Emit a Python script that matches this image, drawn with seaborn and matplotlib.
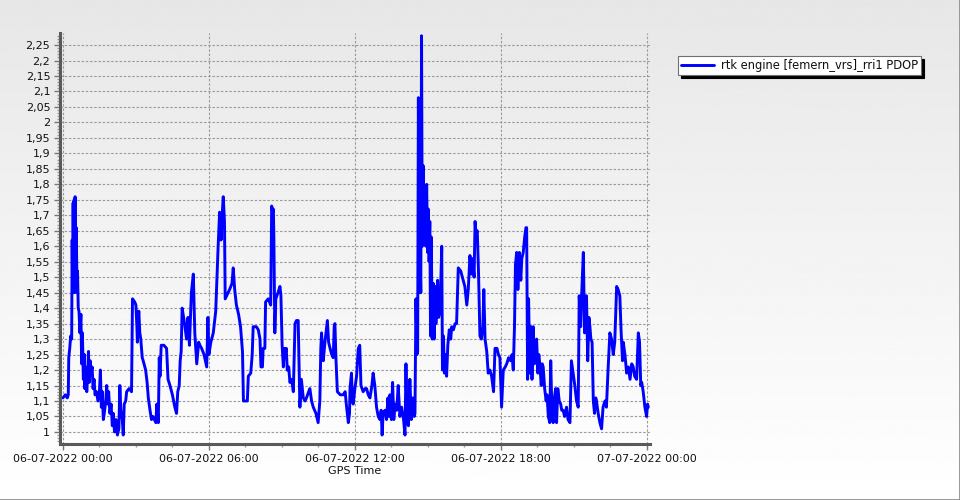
import numpy as np
import pandas as pd
import matplotlib
matplotlib.use("Agg")
import matplotlib.pyplot as plt
import matplotlib.dates as mdates
from matplotlib.ticker import FuncFormatter, MultipleLocator
from matplotlib.lines import Line2D
import seaborn as sns

# PDOP values, hours after 06-07-2022 00:00
hours = [
    0.00, 0.10, 0.18, 0.22, 0.24, 0.28, 0.32, 0.36, 0.38, 0.40, 0.42, 0.44, 0.46, 0.48, 0.50, 0.52,
    0.55, 0.58, 0.60, 0.63, 0.66, 0.70, 0.74, 0.77, 0.80, 0.84, 0.88, 0.90, 0.94, 0.98, 1.02, 1.05,
    1.08, 1.12, 1.16, 1.20, 1.24, 1.28, 1.32, 1.38, 1.44, 1.50, 1.54, 1.58, 1.62, 1.66, 1.70, 1.76,
    1.80, 1.84, 1.88, 1.93, 1.98, 2.03, 2.07, 2.12, 2.18, 2.24, 2.30, 2.34, 2.38, 2.44, 2.48, 2.52,
    2.58, 2.62, 2.72, 2.82, 2.86, 2.95, 3.00, 3.04, 3.06, 3.08, 3.12, 3.16, 3.20, 3.26, 3.30, 3.40,
    3.46, 3.51, 3.58, 3.64, 3.70, 3.76, 3.82, 3.86, 3.92, 3.96, 3.99, 4.04, 4.15, 4.26, 4.32, 4.40,
    4.50, 4.60, 4.67, 4.72, 4.78, 4.82, 4.86, 4.90, 4.96, 5.00, 5.05, 5.08, 5.14, 5.20, 5.28, 5.36,
    5.42, 5.50, 5.58, 5.63, 5.70, 5.80, 5.91, 5.96, 6.00, 6.08, 6.18, 6.28, 6.38, 6.44, 6.50, 6.56,
    6.59, 6.64, 6.67, 6.73, 6.85, 6.95, 7.00, 7.06, 7.13, 7.22, 7.30, 7.38, 7.42, 7.50, 7.58, 7.62,
    7.72, 7.78, 7.82, 7.95, 8.03,
    8.10, 8.14, 8.20, 8.23, 8.30, 8.33, 8.44, 8.54, 8.58, 8.62, 8.65, 8.67, 8.71, 8.75, 8.84, 8.92,
    8.96, 9.01, 9.06, 9.10, 9.13, 9.18, 9.22, 9.28, 9.33, 9.40, 9.47, 9.54, 9.60, 9.67, 9.71, 9.74,
    9.80, 9.88, 9.95, 10.01, 10.10, 10.15, 10.22, 10.29, 10.40, 10.49, 10.56, 10.60, 10.63, 10.70,
    10.77, 10.87, 10.92, 10.98, 11.05, 11.11, 11.15, 11.18, 11.22, 11.28, 11.40, 11.52, 11.60, 11.66,
    11.73, 11.78, 11.80, 11.86, 11.90, 11.93, 12.00, 12.07, 12.14, 12.20, 12.25, 12.34, 12.42, 12.48,
    12.55, 12.62, 12.70, 12.75, 12.82, 12.89, 12.96, 13.03,
    13.08, 13.12, 13.16, 13.24, 13.30, 13.36, 13.40, 13.44, 13.50, 13.55, 13.60, 13.65, 13.72, 13.78,
    13.85, 13.92, 14.00, 14.06, 14.10, 14.14, 14.20, 14.26, 14.32, 14.38, 14.44, 14.47, 14.51, 14.55,
    14.58, 14.61, 14.64, 14.67, 14.71, 14.74, 14.77, 14.81, 14.85, 14.88, 14.92, 14.95, 14.99, 15.02,
    15.05, 15.08, 15.11, 15.14, 15.18, 15.22, 15.26, 15.30, 15.33, 15.36, 15.40, 15.44, 15.50, 15.57,
    15.60, 15.64, 15.68, 15.72, 15.77, 15.82, 15.88, 15.94, 15.98, 16.05, 16.12, 16.18, 16.25, 16.35,
    16.45, 16.52, 16.60, 16.66, 16.73, 16.78, 16.84, 16.90, 16.94, 16.98, 17.03, 17.08, 17.14, 17.20,
    17.26, 17.30, 17.35, 17.42, 17.48, 17.55, 17.62, 17.70, 17.76, 17.84, 17.90, 17.96, 18.03, 18.10,
    18.18, 18.24, 18.32, 18.40, 18.46, 18.51, 18.56, 18.60, 18.65, 18.70, 18.76, 18.82, 18.86, 18.92,
    18.98, 19.03, 19.06,
    19.10, 19.14, 19.19, 19.24, 19.28, 19.33, 19.38, 19.42, 19.47, 19.52, 19.56, 19.60, 19.66, 19.70,
    19.74, 19.80, 19.86, 19.90, 19.95, 20.01, 20.05, 20.10, 20.15, 20.20, 20.25, 20.29, 20.34, 20.40,
    20.46, 20.50, 20.56, 20.62, 20.70, 20.76, 20.84, 20.90, 20.97, 21.04, 21.11, 21.18, 21.22, 21.28,
    21.33, 21.39, 21.44, 21.48, 21.52, 21.57, 21.62, 21.66, 21.70, 21.75, 21.80, 21.85, 21.90, 21.93,
    22.00, 22.07, 22.14, 22.20, 22.28, 22.34, 22.40, 22.48, 22.55, 22.62, 22.68, 22.76, 22.82, 22.89,
    22.94, 23.00, 23.03, 23.10, 23.17, 23.24, 23.31, 23.38, 23.44, 23.50, 23.58, 23.65, 23.70, 23.75,
    23.79, 23.85, 23.92, 23.99, 24.03, 24.06,
]

pdop = [
    1.11, 1.12, 1.11, 1.12, 1.24, 1.27, 1.31, 1.30, 1.62, 1.45, 1.74, 1.47, 1.75, 1.45, 1.76, 1.50,
    1.66, 1.45, 1.52, 1.40, 1.39, 1.32, 1.38, 1.22, 1.32, 1.17, 1.25, 1.14, 1.21, 1.13, 1.19, 1.26,
    1.16, 1.23, 1.19, 1.21, 1.14, 1.17, 1.12, 1.13, 1.10, 1.13, 1.20, 1.08, 1.13, 1.04, 1.06, 1.10,
    1.15, 1.09, 1.13, 1.06, 1.09, 1.02, 1.06, 1.00, 1.04, 0.99, 1.01, 1.15, 1.07, 1.04, 0.99, 1.09,
    1.10, 1.13, 1.14, 1.13, 1.43, 1.42, 1.41, 1.34, 1.29, 1.35, 1.39, 1.32, 1.30, 1.24, 1.23, 1.20,
    1.16, 1.11, 1.07, 1.04, 1.05, 1.04, 1.03, 1.09, 1.03, 1.24, 1.18, 1.28, 1.28, 1.27, 1.17, 1.15,
    1.12, 1.08, 1.06, 1.13, 1.15, 1.23, 1.26, 1.40, 1.37, 1.35, 1.32, 1.30, 1.37, 1.28, 1.45, 1.51,
    1.32, 1.22, 1.29, 1.28, 1.27, 1.25, 1.21, 1.37, 1.25, 1.29, 1.32, 1.39, 1.60, 1.71, 1.62, 1.72,
    1.76, 1.68, 1.43, 1.44, 1.46, 1.48, 1.53, 1.46, 1.41, 1.38, 1.34, 1.26, 1.10, 1.10, 1.10, 1.18,
    1.19, 1.25, 1.34, 1.34, 1.33,
    1.30, 1.21, 1.21, 1.27, 1.27, 1.42, 1.43, 1.41, 1.73, 1.71, 1.72, 1.63, 1.32, 1.43, 1.45, 1.47,
    1.44, 1.28, 1.21, 1.27, 1.25, 1.27, 1.20, 1.21, 1.16, 1.17, 1.13, 1.35, 1.36, 1.36, 1.19, 1.08,
    1.17, 1.11, 1.10, 1.11, 1.13, 1.14, 1.10, 1.08, 1.06, 1.03, 1.10, 1.27, 1.32, 1.23,
    1.29, 1.36, 1.29, 1.27, 1.25, 1.24, 1.34, 1.35, 1.24, 1.13, 1.12, 1.12, 1.13, 1.08,
    1.03, 1.06, 1.14, 1.19, 1.10, 1.09, 1.14, 1.18, 1.27, 1.28, 1.15, 1.13, 1.14, 1.14,
    1.12, 1.11, 1.15, 1.19, 1.15, 1.08, 1.05, 1.04,
    1.07, 0.99, 1.06, 1.07, 1.04, 1.11, 1.05, 1.12, 1.04, 1.16, 1.04, 1.09, 1.07, 1.15,
    1.05, 1.08, 1.04, 0.99, 1.22, 1.04, 1.02, 1.17, 1.04, 1.11, 1.05, 1.06, 1.43, 1.25,
    1.26, 2.08, 1.45, 1.62, 1.45, 2.28, 1.60, 1.86, 1.62, 1.75, 1.60, 1.80, 1.58, 1.72,
    1.55, 1.68, 1.31, 1.63, 1.30, 1.48, 1.30, 1.47, 1.35, 1.41, 1.49, 1.37, 1.39, 1.60,
    1.20, 1.31, 1.19, 1.25, 1.18, 1.28, 1.33, 1.30, 1.34, 1.33, 1.35, 1.35, 1.53, 1.52,
    1.49, 1.47, 1.41, 1.46, 1.57, 1.51, 1.56, 1.50, 1.68, 1.64, 1.65, 1.52, 1.31, 1.30,
    1.34, 1.46, 1.30, 1.26, 1.19, 1.20, 1.18, 1.13, 1.27, 1.27, 1.25, 1.24, 1.08, 1.20,
    1.21, 1.22, 1.24, 1.23, 1.25, 1.20, 1.34, 1.54, 1.58, 1.46, 1.58, 1.49, 1.56, 1.58,
    1.63, 1.66, 1.66,
    1.17, 1.43, 1.19, 1.34, 1.17, 1.34, 1.22, 1.28, 1.30, 1.19, 1.25, 1.22, 1.15, 1.22,
    1.21, 1.14, 1.10, 1.12, 1.05, 1.03, 1.23, 1.06, 1.03, 1.11, 1.14, 1.03, 1.14, 1.10,
    1.09, 1.07, 1.07, 1.05, 1.08, 1.04, 1.03, 1.23, 1.19, 1.15, 1.10, 1.08, 1.44, 1.34,
    1.46, 1.58, 1.32, 1.43, 1.44, 1.23, 1.37, 1.34, 1.30, 1.29, 1.10, 1.06, 1.11, 1.10,
    1.06, 1.03, 1.01, 1.08, 1.10, 1.08, 1.19, 1.32, 1.30, 1.25, 1.29, 1.47, 1.46, 1.44,
    1.33, 1.23, 1.29, 1.25, 1.19, 1.21, 1.17, 1.22, 1.21, 1.18, 1.17, 1.32, 1.29, 1.15,
    1.16, 1.13, 1.08, 1.05, 1.09, 1.08,
]

series_name = "rtk engine [femern_vrs]_rri1 PDOP"
start = pd.Timestamp("2022-07-06 00:00")

df = pd.DataFrame({
    "time": start + pd.to_timedelta(hours, unit="h"),
    "pdop": pdop,
})

sns.set_style("ticks")
plt.rcParams["font.family"] = ["DejaVu Sans"]

fig = plt.figure(figsize=(9.6, 5.0), dpi=100)

# grey-to-white background gradient
bg = fig.add_axes([0, 0, 1, 1], zorder=-10)
grad = np.linspace(0.905, 1.0, 256).reshape(-1, 1)
bg.imshow(grad, cmap="gray", vmin=0, vmax=1, aspect="auto", extent=[0, 1, 0, 1], origin="upper")
bg.set_axis_off()

W, H = 960, 500
ax = fig.add_axes([60 / W, (H - 444) / H, 590 / W, 411 / H])
ax.set_facecolor("none")

sns.lineplot(data=df, x="time", y="pdop", sort=False, color="#0000ff", lw=2.1,
             label=series_name, ax=ax)

ax.set_xlim(start - pd.Timedelta(hours=0.12), start + pd.Timedelta(hours=24.13))
ax.set_ylim(0.961, 2.289)

ax.xaxis.set_major_locator(mdates.HourLocator(byhour=[0, 6, 12, 18]))
ax.xaxis.set_major_formatter(mdates.DateFormatter("%d-%m-%Y %H:%M"))
minor_x = [start + pd.Timedelta(hours=1.5 * i) for i in range(17)]
ax.set_xticks(mdates.date2num(minor_x), minor=True)

ax.yaxis.set_major_locator(MultipleLocator(0.05))
ax.yaxis.set_minor_locator(MultipleLocator(0.01))
ax.yaxis.set_major_formatter(FuncFormatter(
    lambda v, p: f"{v:.2f}".rstrip("0").rstrip(".").replace(".", ",")))

ax.grid(True, which="major", color="#9a9a9a", ls=(0, (2.2, 1.6)), lw=0.8)
ax.tick_params(which="major", length=4, width=1, color="#777", labelsize=8, labelcolor="#111", pad=3)
ax.tick_params(which="minor", length=2, width=1, color="#999")

for s in ["top", "right"]:
    ax.spines[s].set_visible(False)
for s in ["left", "bottom"]:
    ax.spines[s].set_color("#5a5a5a")
    ax.spines[s].set_linewidth(2.2)

ax.set_xlabel("GPS Time", fontsize=8, color="#111", labelpad=2)
ax.set_ylabel("")

leg = ax.legend(loc="upper left", bbox_to_anchor=(678 / W, 1 - 56 / H), bbox_transform=fig.transFigure,
                fontsize=8.3, frameon=True, fancybox=False, shadow={"color": "black", "alpha": 1},
                borderpad=0.25, handlelength=2.9, handletextpad=0.6, borderaxespad=0)
leg.get_frame().set_edgecolor("#707070")
leg.get_frame().set_linewidth(0.8)
leg.get_frame().set_facecolor("white")
leg.get_frame().set_alpha(1)
for t in leg.get_texts():
    t.set_color("#111")

# thin border on the right and bottom edge of the picture
fig.add_artist(Line2D([0.9995, 0.9995], [0, 1], transform=fig.transFigure, color="#888", lw=1.2))
fig.add_artist(Line2D([0, 1], [0.001, 0.001], transform=fig.transFigure, color="#888", lw=1.2))

fig.savefig("out.png", dpi=100)
